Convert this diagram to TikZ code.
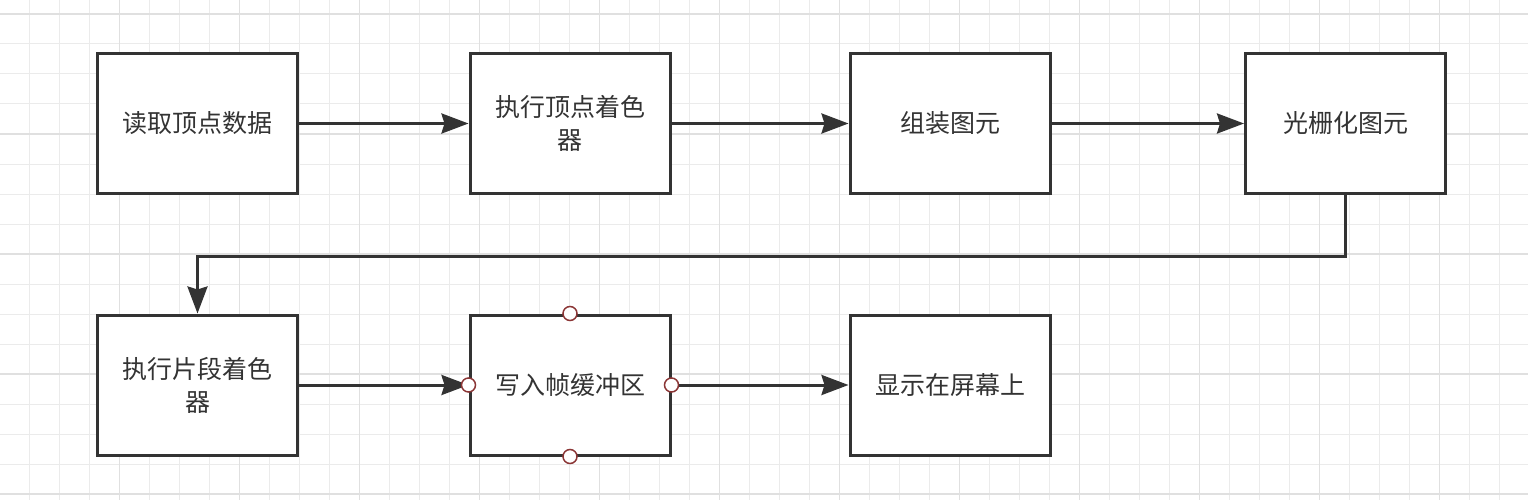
\documentclass[tikz,border=0pt]{standalone}
\usepackage{fontspec}
\newfontfamily\cjk{Noto Sans CJK SC}
\usetikzlibrary{arrows.meta}

\definecolor{ink}{HTML}{333333}
\definecolor{gridminor}{HTML}{EBEBEB}
\definecolor{gridmajor}{HTML}{E0E0E0}
\definecolor{portred}{HTML}{8B3535}

\begin{document}
\begin{tikzpicture}[
  x=1pt, y=-1pt,
  font=\cjk\fontsize{25}{33}\selectfont,
  box/.style={draw=ink, line width=3pt, fill=white, text=ink, align=center,
    minimum width=200pt, minimum height=140pt, inner sep=0pt},
  arr/.style={draw=ink, line width=3pt,
    -{Stealth[length=27pt, width=20pt, inset=3pt]}},
  port/.style={circle, draw=portred, line width=1.5pt, fill=white,
    minimum size=14pt, inner sep=0pt},
  minor/.style={draw=gridminor, line width=1pt},
  major/.style={draw=gridmajor, line width=1.2pt}
]
\useasboundingbox (0,0) rectangle (1528,500);

% background grid
\foreach \x in {29.5,59.5,...,1528} \draw[minor] (\x,0) -- (\x,500);
\foreach \y in {14,44,...,500} \draw[minor] (0,\y) -- (1528,\y);
\foreach \x in {119.5,239.5,...,1528} \draw[major] (\x,0) -- (\x,500);
\foreach \y in {14,134,...,500} \draw[major] (0,\y) -- (1528,\y);

% row 1: vertex side
\node[box] (read)   at (197.5,123.5) {读取顶点数据};
\node[box] (vshade) at (570,123.5)   {执行顶点着色\\器};
\node[box] (prim)   at (950,123.5)   {组装图元};
\node[box] (raster) at (1345.5,123.5) {光栅化图元};
\draw[arr] (read) -- (vshade);
\draw[arr] (vshade) -- (prim);
\draw[arr] (prim) -- (raster);

% row 2: fragment side
\node[box] (fshade) at (197.5,385) {执行片段着色\\器};
\node[box] (write)  at (570,385)   {写入帧缓冲区};
\node[box] (show)   at (950,385)   {显示在屏幕上};
\draw[arr] (raster.south) -- ++(0,61) -| (fshade.north);
\draw[arr] (fshade) -- (write);
\draw[arr] (write) -- (show);

% connection points on the selected box
\foreach \a in {north,south,east,west}
  \node[port] (write-\a) at (write.\a) {};

\end{tikzpicture}
\end{document}
